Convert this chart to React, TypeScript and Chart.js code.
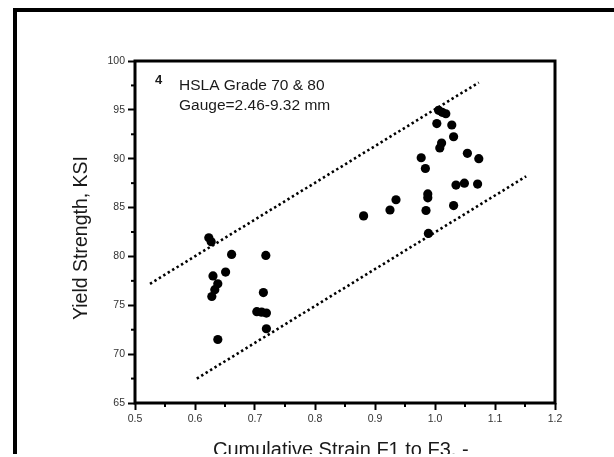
import { useEffect, useRef } from 'react';
import { Chart, registerables } from 'chart.js';

Chart.register(...registerables);

// Measured points: cumulative strain F1 to F3 (x) vs yield strength in KSI (y)
const STRAIN = [
  0.623, 0.627, 0.630, 0.661, 0.651, 0.638, 0.633, 0.628, 0.638, 0.718,
  0.714, 0.703, 0.711, 0.719, 0.719,
  0.881, 0.925, 0.935, 0.977, 0.984, 0.988, 0.988, 0.985, 0.989, 1.003,
  1.006, 1.012, 1.018, 1.008, 1.011, 1.028, 1.031, 1.054, 1.073, 1.035,
  1.049, 1.071, 1.031,
];
const YIELD = [
  81.9, 81.5, 78.0, 80.2, 78.4, 77.2, 76.6, 75.9, 71.5, 80.1,
  76.3, 74.35, 74.3, 74.2, 72.6,
  84.15, 84.75, 85.8, 90.1, 89.0, 86.4, 86.0, 84.7, 82.35, 93.6,
  94.95, 94.75, 94.6, 91.1, 91.6, 93.45, 92.25, 90.55, 90.0, 87.3,
  87.5, 87.4, 85.2,
];

// Dotted band lines
const UPPER_X = [0.525, 1.073];
const UPPER_Y = [77.2, 97.8];
const LOWER_X = [0.603, 1.152];
const LOWER_Y = [67.5, 88.2];

// Axis ticks
const X_TICKS = [0.5, 0.6, 0.7, 0.8, 0.9, 1.0, 1.1, 1.2];
const X_MINOR = [0.55, 0.65, 0.75, 0.85, 0.95, 1.05, 1.15];
const Y_TICKS = [65, 70, 75, 80, 85, 90, 95, 100];
const Y_MINOR = [67.5, 72.5, 77.5, 82.5, 87.5, 92.5, 97.5];

const X_TITLE = 'Cumulative Strain F1 to F3, -';
const Y_TITLE = 'Yield Strength, KSI';
const NOTE_NUM = '4';
const NOTE_LINES = ['HSLA Grade 70 & 80', 'Gauge=2.46-9.32 mm'];

const FAMILY = "'Liberation Sans', Arial, Helvetica, sans-serif";

export default function App() {
  const ref = useRef<HTMLCanvasElement>(null);

  useEffect(() => {
    const canvas = ref.current;
    if (!canvas) return;

    const framePlugin = {
      id: 'frameAndText',
      beforeDraw(chart: any) {
        const ctx = chart.ctx;
        ctx.save();
        ctx.fillStyle = '#ffffff';
        ctx.fillRect(0, 0, chart.width, chart.height);
        ctx.restore();
      },
      afterDraw(chart: any) {
        const ctx = chart.ctx as CanvasRenderingContext2D;
        const { left, top, right, bottom } = chart.chartArea;
        const xs = chart.scales.x;
        const ys = chart.scales.y;
        ctx.save();
        ctx.strokeStyle = '#000';
        // outer frame
        ctx.lineWidth = 4;
        ctx.strokeRect(15, 10, 700, 700);
        // plot box
        ctx.lineWidth = 3;
        ctx.strokeRect(left, top, right - left, bottom - top);
        // minor ticks
        ctx.lineWidth = 2;
        X_MINOR.forEach((v) => {
          const px = xs.getPixelForValue(v);
          ctx.beginPath();
          ctx.moveTo(px, bottom);
          ctx.lineTo(px, bottom + 4);
          ctx.stroke();
        });
        Y_MINOR.forEach((v) => {
          const py = ys.getPixelForValue(v);
          ctx.beginPath();
          ctx.moveTo(left, py);
          ctx.lineTo(left - 4, py);
          ctx.stroke();
        });
        // annotation
        ctx.fillStyle = '#1a1a1a';
        ctx.textBaseline = 'alphabetic';
        ctx.textAlign = 'left';
        ctx.font = `bold 13px ${FAMILY}`;
        ctx.fillText(NOTE_NUM, 155, 83.5);
        ctx.font = `15.5px ${FAMILY}`;
        ctx.fillText(NOTE_LINES[0], 179, 90);
        ctx.fillText(NOTE_LINES[1], 179, 109.5);
        // axis titles
        ctx.font = `20px ${FAMILY}`;
        ctx.fillText(X_TITLE, 213, 456);
        ctx.save();
        ctx.font = `19.5px ${FAMILY}`;
        ctx.translate(87, 238);
        ctx.rotate(-Math.PI / 2);
        ctx.textAlign = 'center';
        ctx.fillText(Y_TITLE, 0, 0);
        ctx.restore();
        ctx.restore();
      },
    };

    const tickFont = { size: 10.5, family: FAMILY };

    const chart = new Chart(canvas, {
      type: 'scatter',
      data: {
        datasets: [
          {
            label: 'data',
            data: STRAIN.map((x, i) => ({ x, y: YIELD[i] })),
            pointRadius: 4.6,
            pointBackgroundColor: '#000',
            pointBorderWidth: 0,
            showLine: false,
          },
          {
            label: 'upper',
            data: UPPER_X.map((x, i) => ({ x, y: UPPER_Y[i] })),
            showLine: true,
            borderColor: '#000',
            borderWidth: 2.6,
            borderDash: [2.4, 2.8],
            pointRadius: 0,
          },
          {
            label: 'lower',
            data: LOWER_X.map((x, i) => ({ x, y: LOWER_Y[i] })),
            showLine: true,
            borderColor: '#000',
            borderWidth: 2.6,
            borderDash: [2.4, 2.8],
            pointRadius: 0,
          },
        ],
      },
      options: {
        responsive: false,
        animation: false,
        devicePixelRatio: 1,
        layout: { padding: { left: 0, top: 61, right: 59, bottom: 0 } },
        plugins: {
          legend: { display: false },
          tooltip: { enabled: false },
        },
        scales: {
          x: {
            type: 'linear',
            min: 0.5,
            max: 1.2,
            afterBuildTicks: (s: any) => {
              s.ticks = X_TICKS.map((value) => ({ value }));
            },
            afterFit: (s: any) => {
              s.height = 51;
            },
            border: { display: false },
            grid: { drawOnChartArea: false, tickLength: 7, tickWidth: 2, tickColor: '#000' },
            ticks: {
              padding: 3,
              font: tickFont,
              color: '#333',
              maxRotation: 0,
              autoSkip: false,
              callback: (v: any) => Number(v).toFixed(1),
            },
          },
          y: {
            type: 'linear',
            min: 65,
            max: 100,
            afterBuildTicks: (s: any) => {
              s.ticks = Y_TICKS.map((value) => ({ value }));
            },
            afterFit: (s: any) => {
              s.width = 135;
            },
            border: { display: false },
            grid: { drawOnChartArea: false, tickLength: 7, tickWidth: 2, tickColor: '#000' },
            ticks: {
              padding: 3,
              font: tickFont,
              color: '#333',
              autoSkip: false,
              callback: (v: any) => String(Math.round(Number(v))),
            },
          },
        },
      },
      plugins: [framePlugin],
    } as any);

    return () => chart.destroy();
  }, []);

  return (
    <div style={{ position: 'fixed', left: 0, top: 0, width: 614, height: 454, background: '#fff' }}>
      <canvas ref={ref} width={614} height={454} style={{ display: 'block' }} />
    </div>
  );
}
